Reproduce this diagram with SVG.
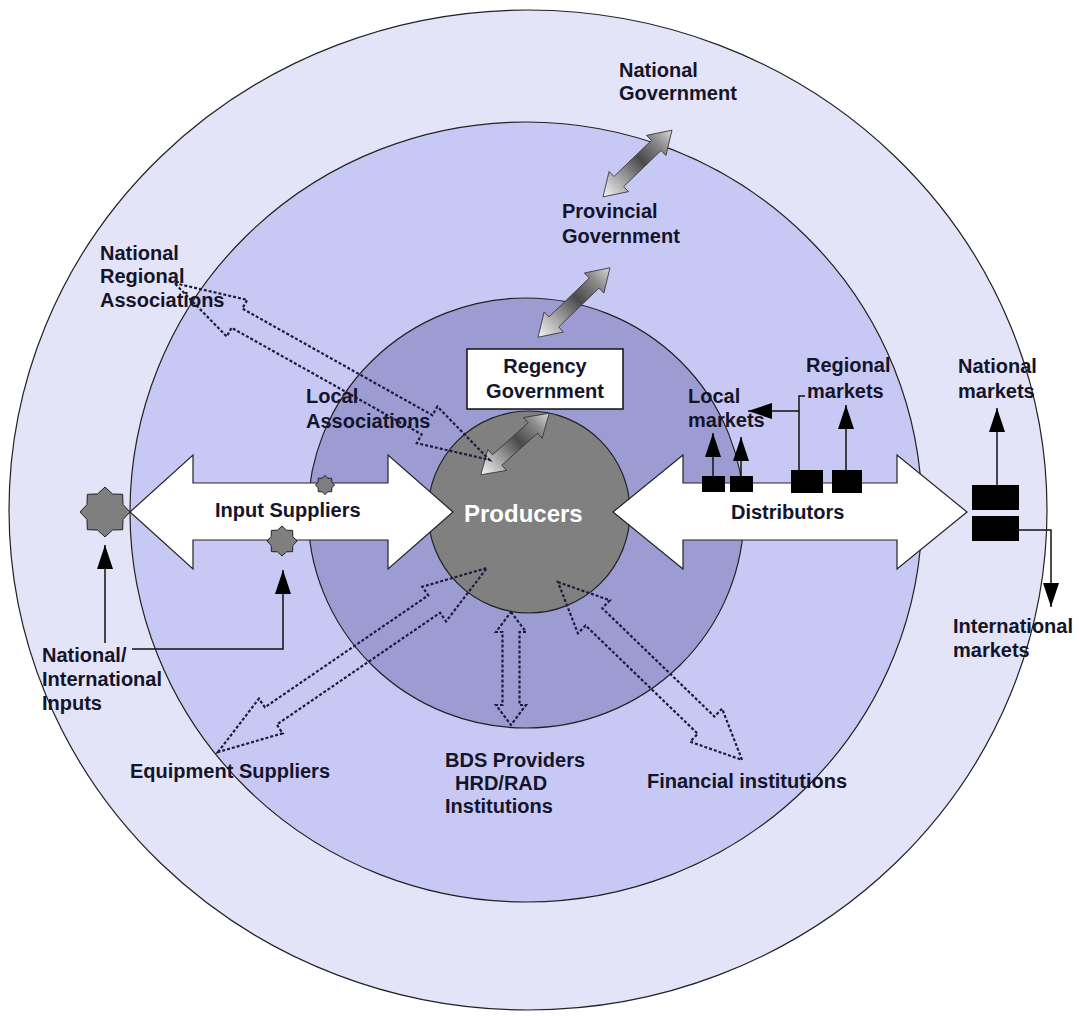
<svg xmlns="http://www.w3.org/2000/svg" width="1080" height="1016" viewBox="0 0 1080 1016">
<style>
.ring{stroke:#222;stroke-width:1.2}
.lbl{font-family:"Liberation Sans",Arial,sans-serif;font-weight:bold;font-size:20px;fill:#14142a}
.dot{fill:none;stroke:#1c1c3c;stroke-width:2.2;stroke-dasharray:3 2}
.ln{stroke:#111;stroke-width:1.5;fill:none}
.blk{fill:#000}
.white{fill:#fff;stroke:#222;stroke-width:1.2}
.g3d{fill:url(#grad3d);stroke:#333;stroke-width:0.8}
</style>
<defs>
<marker id="ah" viewBox="0 0 24 16" refX="24" refY="8" markerWidth="24" markerHeight="16" markerUnits="userSpaceOnUse" orient="auto">
<path d="M0,0 L24,8 L0,16 Z" fill="#000"/>
</marker>
<linearGradient id="grad3d" x1="0" y1="0" x2="1" y2="0">
<stop offset="0" stop-color="#f6f6f6"/>
<stop offset="0.3" stop-color="#9a9a9a"/>
<stop offset="0.55" stop-color="#4a4a4a"/>
<stop offset="0.8" stop-color="#8a8a8a"/>
<stop offset="1" stop-color="#d8d8d8"/>
</linearGradient>
<polygon id="star" points="10,0 7.21,2.99 7.07,7.07 2.99,7.21 0,10 -2.99,7.21 -7.07,7.07 -7.21,2.99 -10,0 -7.21,-2.99 -7.07,-7.07 -2.99,-7.21 0,-10 2.99,-7.21 7.07,-7.07 7.21,-2.99" fill="#7f7f7f" stroke="#222" stroke-width="1" vector-effect="non-scaling-stroke"/>
</defs>
<rect width="1080" height="1016" fill="#fff"/>
<g id="rings">
<ellipse class="ring" cx="528" cy="510" rx="519" ry="500" fill="#e4e4f8"/>
<ellipse class="ring" cx="526" cy="512" rx="396" ry="390" fill="#c8c8f4"/>
<ellipse class="ring" cx="526" cy="513" rx="218" ry="215" fill="#9c9cd3"/>
</g>
<g id="producers">
<circle class="ring" cx="529" cy="512" r="101" fill="#808080"/>
</g>
<g id="input-arrow">
<polygon class="white" points="130,512 193,455 193,483 388,483 388,455 453,512 388,569 388,540 193,540 193,569"/>
</g>
<g id="distributor-arrow">
<polygon class="white" points="613,512 683,455 683,483 897,483 897,455 967,512 897,569 897,540 683,540 683,569"/>
</g>
<g id="stars">
<use href="#star" transform="translate(105,512) scale(2.5)"/>
<use href="#star" transform="translate(282,541) scale(1.5)"/>
<use href="#star" transform="translate(325,485) scale(0.95)"/>
</g>
<g id="market-boxes">
<rect class="blk" x="702" y="476" width="23" height="16"/>
<rect class="blk" x="730" y="476" width="23" height="16"/>
<rect class="blk" x="791" y="470" width="32" height="23"/>
<rect class="blk" x="832" y="470" width="30" height="23"/>
<rect class="blk" x="972" y="485" width="47" height="25"/>
<rect class="blk" x="972" y="516" width="47" height="25"/>
</g>
<g id="connectors">
<path class="ln" d="M713,476 V433" marker-end="url(#ah)"/>
<path class="ln" d="M741,476 V437" marker-end="url(#ah)"/>
<path class="ln" d="M805,396 H799 V470"/>
<path class="ln" d="M799,411 H748" marker-end="url(#ah)"/>
<path class="ln" d="M846,470 V405" marker-end="url(#ah)"/>
<path class="ln" d="M997,485 V408" marker-end="url(#ah)"/>
<path class="ln" d="M1019,530 H1051 V607" marker-end="url(#ah)"/>
<path class="ln" d="M105,643 V545" marker-end="url(#ah)"/>
<path class="ln" d="M132,649 H283 V570" marker-end="url(#ah)"/>
<path class="g3d" transform="translate(637.5,163.5) rotate(-44)" d="M-48,0 L-26,-14 L-26,-7 L26,-7 L26,-14 L48,0 L26,14 L26,7 L-26,7 L-26,14 Z"/>
<path class="g3d" transform="translate(574,302.5) rotate(-44)" d="M-50,0 L-28,-14 L-28,-7 L28,-7 L28,-14 L50,0 L28,14 L28,7 L-28,7 L-28,14 Z"/>
<path class="g3d" transform="translate(515,444) rotate(-42)" d="M-46,0 L-24,-14 L-24,-7 L24,-7 L24,-14 L46,0 L24,14 L24,7 L-24,7 L-24,14 Z"/>
<path class="dot" transform="translate(332,371.5) rotate(29.3)" d="M-180.5,0 L-109,-21 L-109,-11 L109,-11 L109,-21 L180.5,0 L109,21 L109,11 L-109,11 L-109,21 Z"/>
<path class="dot" transform="translate(352.5,660) rotate(-34.4)" d="M-163,0 L-99,-21 L-99,-10.5 L99,-10.5 L99,-21 L163,0 L99,21 L99,10.5 L-99,10.5 L-99,21 Z"/>
<path class="dot" transform="translate(511,668.5) rotate(90)" d="M-56.5,0 L-36.5,-15 L-36.5,-8.5 L36.5,-8.5 L36.5,-15 L56.5,0 L36.5,15 L36.5,8.5 L-36.5,8.5 L-36.5,15 Z"/>
<path class="dot" transform="translate(650,671) rotate(44)" d="M-128,0 L-78,-23 L-78,-12 L78,-12 L78,-23 L128,0 L78,23 L78,12 L-78,12 L-78,23 Z"/>
</g>
<g id="regency">
<rect x="467" y="349" width="156" height="60" fill="#fff" stroke="#111" stroke-width="1.5"/>
<text class="lbl" x="545" y="373" text-anchor="middle">Regency</text>
<text class="lbl" x="545" y="398" text-anchor="middle">Government</text>
</g>
<g id="labels">
<text class="lbl" x="619" y="77">National</text>
<text class="lbl" x="619" y="100">Government</text>
<text class="lbl" x="562" y="218">Provincial</text>
<text class="lbl" x="562" y="243">Government</text>
<text class="lbl" x="100" y="260">National</text>
<text class="lbl" x="100" y="283">Regional</text>
<text class="lbl" x="100" y="307">Associations</text>
<text class="lbl" x="306" y="403">Local</text>
<text class="lbl" x="306" y="428">Associations</text>
<text class="lbl" x="688" y="403">Local</text>
<text class="lbl" x="688" y="427">markets</text>
<text class="lbl" x="806" y="372">Regional</text>
<text class="lbl" x="807" y="398">markets</text>
<text class="lbl" x="958" y="373">National</text>
<text class="lbl" x="958" y="398">markets</text>
<text class="lbl" x="215" y="517">Input Suppliers</text>
<text class="lbl" x="464" y="522" style="font-size:24px;fill:#fff">Producers</text>
<text class="lbl" x="731" y="519">Distributors</text>
<text class="lbl" x="953" y="633">International</text>
<text class="lbl" x="953" y="657">markets</text>
<text class="lbl" x="42" y="662">National/</text>
<text class="lbl" x="42" y="686">International</text>
<text class="lbl" x="42" y="710">Inputs</text>
<text class="lbl" x="130" y="778">Equipment Suppliers</text>
<text class="lbl" x="445" y="767">BDS Providers</text>
<text class="lbl" x="455" y="790">HRD/RAD</text>
<text class="lbl" x="445" y="813">Institutions</text>
<text class="lbl" x="647" y="788">Financial institutions</text>
</g>
</svg>
